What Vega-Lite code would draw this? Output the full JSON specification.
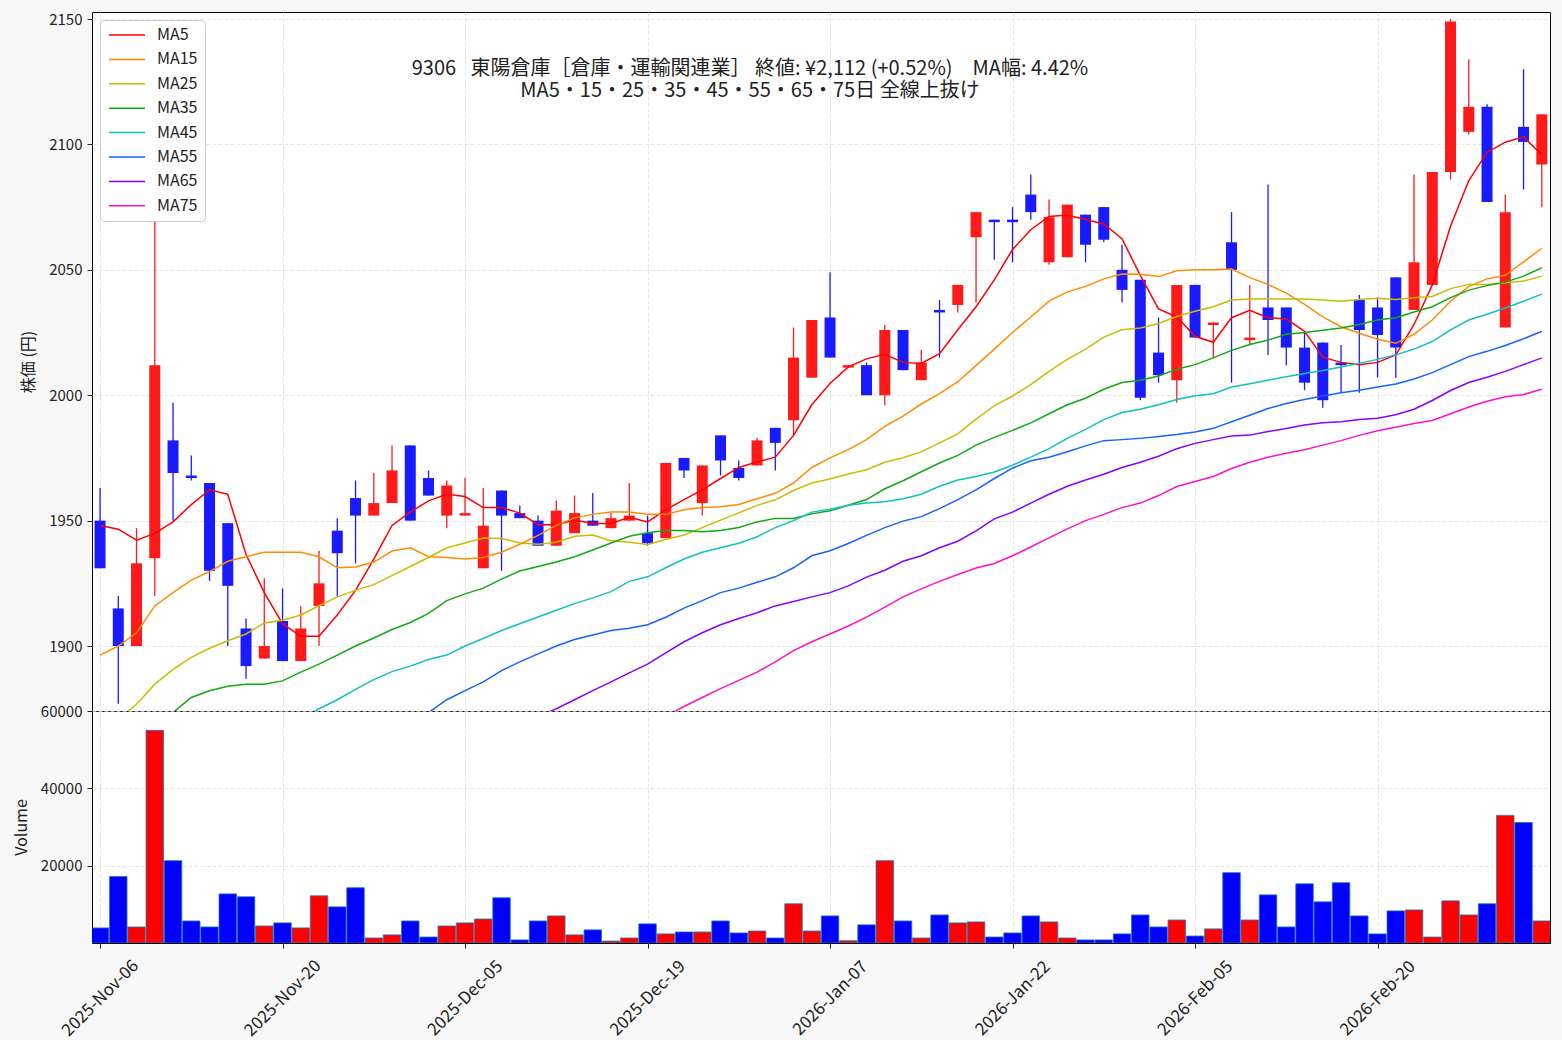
{
  "$schema": "https://vega.github.io/schema/vega-lite/v6.json",
  "background": "#f8f8f8",
  "padding": {"left": 12, "top": 11, "right": 11, "bottom": 0},
  "bounds": "flush",
  "config": {
    "font": "Noto Sans CJK JP",
    "view": {"stroke": "#000000", "strokeWidth": 1, "fill": "#ffffff"},
    "axis": {
      "labelFontSize": 15, "labelColor": "#222222", "labelFont": "Noto Sans CJK JP",
      "titleFontSize": 16, "titleFontWeight": "normal", "titleColor": "#222222", "titleFont": "Noto Sans CJK JP",
      "tickColor": "#222222", "tickSize": 5, "domain": false,
      "gridColor": "#dddddd", "gridDash": [4, 2], "gridWidth": 0.8
    }
  },
  "datasets": {
    "k": [
      {"i":0,"d":"2025-11-06","o":1950,"h":1963,"l":1931,"c":1931,"v":3900,"MA5":1948.1,"MA15":1896.4,"MA25":1866},
      {"i":1,"d":"2025-11-07","o":1915,"h":1920,"l":1877,"c":1900,"v":17200,"MA5":1946.6,"MA15":1900,"MA25":1871},
      {"i":2,"d":"2025-11-10","o":1900,"h":1947,"l":1900,"c":1933,"v":4150,"MA5":1942.2,"MA15":1905.3,"MA25":1876.8},
      {"i":3,"d":"2025-11-11","o":1935,"h":2080,"l":1920,"c":2012,"v":55000,"MA5":1944.9,"MA15":1916,"MA25":1884.8,"MA35":1867},
      {"i":4,"d":"2025-11-12","o":1982,"h":1997,"l":1950,"c":1969,"v":21300,"MA5":1949.5,"MA15":1921.3,"MA25":1890.7,"MA35":1873.5},
      {"i":5,"d":"2025-11-13","o":1968,"h":1976,"l":1966,"c":1967,"v":5700,"MA5":1956.4,"MA15":1926.3,"MA25":1895.5,"MA35":1879.5},
      {"i":6,"d":"2025-11-14","o":1965,"h":1965,"l":1926,"c":1930,"v":4150,"MA5":1962.3,"MA15":1929.7,"MA25":1899.1,"MA35":1882.2},
      {"i":7,"d":"2025-11-17","o":1949,"h":1949,"l":1900,"c":1924,"v":12700,"MA5":1960.5,"MA15":1933.8,"MA25":1902.1,"MA35":1884},
      {"i":8,"d":"2025-11-18","o":1907,"h":1911,"l":1887,"c":1892,"v":11950,"MA5":1936.5,"MA15":1935.6,"MA25":1904.8,"MA35":1884.8},
      {"i":9,"d":"2025-11-19","o":1895,"h":1927,"l":1895,"c":1900,"v":4400,"MA5":1921.3,"MA15":1937.4,"MA25":1909.2,"MA35":1884.8},
      {"i":10,"d":"2025-11-20","o":1910,"h":1923,"l":1894,"c":1894,"v":5200,"MA5":1908.9,"MA15":1937.4,"MA25":1910.3,"MA35":1886.1},
      {"i":11,"d":"2025-11-21","o":1894,"h":1916,"l":1894,"c":1907,"v":3900,"MA5":1903.9,"MA15":1937.4,"MA25":1912.4,"MA35":1889.6,"MA45":1871},
      {"i":12,"d":"2025-11-25","o":1916,"h":1938,"l":1900,"c":1925,"v":12200,"MA5":1903.9,"MA15":1935.6,"MA25":1916,"MA35":1892.8,"MA45":1875},
      {"i":13,"d":"2025-11-26","o":1946,"h":1951,"l":1920,"c":1937,"v":9350,"MA5":1912.4,"MA15":1931.2,"MA25":1919.6,"MA35":1896.4,"MA45":1878.6},
      {"i":14,"d":"2025-11-27","o":1959,"h":1966,"l":1933,"c":1952,"v":14300,"MA5":1922.2,"MA15":1931.5,"MA25":1922.2,"MA35":1900,"MA45":1882.7},
      {"i":15,"d":"2025-11-28","o":1952,"h":1969,"l":1952,"c":1957,"v":1300,"MA5":1934.7,"MA15":1933.5,"MA25":1924.5,"MA35":1903.2,"MA45":1886.6},
      {"i":16,"d":"2025-12-01","o":1957,"h":1980,"l":1957,"c":1970,"v":2100,"MA5":1948.1,"MA15":1937.9,"MA25":1928.1,"MA35":1906.6,"MA45":1889.8},
      {"i":17,"d":"2025-12-02","o":1980,"h":1980,"l":1950,"c":1950,"v":5700,"MA5":1953.4,"MA15":1939.2,"MA25":1931.7,"MA35":1909.4,"MA45":1892,"MA55":1869},
      {"i":18,"d":"2025-12-03","o":1967,"h":1970,"l":1960,"c":1960,"v":1550,"MA5":1957.9,"MA15":1935.6,"MA25":1935.3,"MA35":1913,"MA45":1894.6,"MA55":1873.5},
      {"i":19,"d":"2025-12-04","o":1952,"h":1966,"l":1947,"c":1964,"v":4400,"MA5":1960.5,"MA15":1935.3,"MA25":1939.2,"MA35":1918.1,"MA45":1896.4,"MA55":1878.6},
      {"i":20,"d":"2025-12-05","o":1952,"h":1967,"l":1952,"c":1953,"v":5200,"MA5":1959.6,"MA15":1934.7,"MA25":1941.1,"MA35":1920.8,"MA45":1900,"MA55":1882.2},
      {"i":21,"d":"2025-12-08","o":1931,"h":1963,"l":1931,"c":1948,"v":6200,"MA5":1955.2,"MA15":1935.3,"MA25":1943.1,"MA35":1923.1,"MA45":1903,"MA55":1885.7},
      {"i":22,"d":"2025-12-09","o":1962,"h":1962,"l":1930,"c":1952,"v":11700,"MA5":1955.2,"MA15":1937.4,"MA25":1942.9,"MA35":1926.7,"MA45":1906.2,"MA55":1890.2},
      {"i":23,"d":"2025-12-10","o":1953,"h":1956,"l":1951,"c":1951,"v":800,"MA5":1953,"MA15":1940.6,"MA25":1941.1,"MA35":1929.9,"MA45":1908.9,"MA55":1893.7},
      {"i":24,"d":"2025-12-11","o":1950,"h":1952,"l":1940,"c":1940,"v":5700,"MA5":1948.4,"MA15":1944.1,"MA25":1940.6,"MA35":1931.7,"MA45":1911.6,"MA55":1896.9,"MA65":1872},
      {"i":25,"d":"2025-12-12","o":1940,"h":1958,"l":1940,"c":1954,"v":7000,"MA5":1948.4,"MA15":1948.1,"MA25":1941.4,"MA35":1933.5,"MA45":1914.3,"MA55":1900,"MA65":1875},
      {"i":26,"d":"2025-12-15","o":1945,"h":1960,"l":1945,"c":1953,"v":2100,"MA5":1950.2,"MA15":1951.1,"MA25":1943.8,"MA35":1935.6,"MA45":1916.9,"MA55":1902.6,"MA65":1878.6},
      {"i":27,"d":"2025-12-16","o":1950,"h":1961,"l":1948,"c":1948,"v":3400,"MA5":1948.9,"MA15":1952.5,"MA25":1944.3,"MA35":1938.3,"MA45":1919.2,"MA55":1904.4,"MA65":1882.2},
      {"i":28,"d":"2025-12-17","o":1947,"h":1953,"l":1947,"c":1951,"v":500,"MA5":1948.9,"MA15":1953.4,"MA25":1942,"MA35":1941.1,"MA45":1921.7,"MA55":1906.2,"MA65":1885.7},
      {"i":29,"d":"2025-12-18","o":1950,"h":1965,"l":1950,"c":1952,"v":1300,"MA5":1951.3,"MA15":1953.4,"MA25":1941.4,"MA35":1943.8,"MA45":1925.8,"MA55":1907.1,"MA65":1889.3},
      {"i":30,"d":"2025-12-19","o":1945,"h":1952,"l":1940,"c":1941,"v":4950,"MA5":1949.5,"MA15":1952.5,"MA25":1940.5,"MA35":1945.2,"MA45":1927.6,"MA55":1908.5,"MA65":1892.8},
      {"i":31,"d":"2025-12-22","o":1943,"h":1973,"l":1943,"c":1973,"v":2350,"MA5":1954.3,"MA15":1952.5,"MA25":1942.5,"MA35":1946.1,"MA45":1931.2,"MA55":1911.5,"MA65":1897.3,"MA75":1872},
      {"i":32,"d":"2025-12-23","o":1975,"h":1975,"l":1967,"c":1970,"v":2850,"MA5":1958.4,"MA15":1954.3,"MA25":1944.3,"MA35":1946.1,"MA45":1934.7,"MA55":1915.1,"MA65":1901.7,"MA75":1875.9},
      {"i":33,"d":"2025-12-24","o":1957,"h":1972,"l":1952,"c":1972,"v":2850,"MA5":1962.3,"MA15":1955.2,"MA25":1947.2,"MA35":1945.6,"MA45":1937.4,"MA55":1918.1,"MA65":1905.3,"MA75":1879.5},
      {"i":34,"d":"2025-12-25","o":1984,"h":1984,"l":1968,"c":1974,"v":5700,"MA5":1966.8,"MA15":1955.5,"MA25":1950.2,"MA35":1946.1,"MA45":1939.2,"MA55":1921.3,"MA65":1908.5,"MA75":1883},
      {"i":35,"d":"2025-12-26","o":1971,"h":1974,"l":1966,"c":1967,"v":2600,"MA5":1971.2,"MA15":1956.4,"MA25":1953.1,"MA35":1947.3,"MA45":1941,"MA55":1923.1,"MA65":1911,"MA75":1886.3},
      {"i":36,"d":"2025-12-29","o":1972,"h":1983,"l":1972,"c":1982,"v":3100,"MA5":1973.4,"MA15":1958.7,"MA25":1956.1,"MA35":1949.5,"MA45":1943.6,"MA55":1925.4,"MA65":1913.3,"MA75":1889.6},
      {"i":37,"d":"2025-12-30","o":1987,"h":1987,"l":1970,"c":1981,"v":1300,"MA5":1975.3,"MA15":1960.9,"MA25":1958.3,"MA35":1950.9,"MA45":1947.2,"MA55":1927.6,"MA65":1916,"MA75":1893.7},
      {"i":38,"d":"2026-01-05","o":1990,"h":2027,"l":1984,"c":2015,"v":10150,"MA5":1984,"MA15":1965,"MA25":1962,"MA35":1950.9,"MA45":1950,"MA55":1931.2,"MA65":1917.8,"MA75":1898.2},
      {"i":39,"d":"2026-01-06","o":2007,"h":2030,"l":2007,"c":2030,"v":3100,"MA5":1996.2,"MA15":1971.2,"MA25":1965,"MA35":1952.7,"MA45":1953.4,"MA55":1936,"MA65":1919.6,"MA75":1901.7},
      {"i":40,"d":"2026-01-07","o":2031,"h":2049,"l":2015,"c":2015,"v":7000,"MA5":2004.7,"MA15":1975,"MA25":1966.6,"MA35":1953.9,"MA45":1954.5,"MA55":1938,"MA65":1921.3,"MA75":1904.8},
      {"i":41,"d":"2026-01-08","o":2011,"h":2012,"l":2011,"c":2012,"v":600,"MA5":2011.3,"MA15":1978.3,"MA25":1968.6,"MA35":1956.1,"MA45":1956.1,"MA55":1940.9,"MA65":1924,"MA75":1908},
      {"i":42,"d":"2026-01-09","o":2012,"h":2013,"l":2000,"c":2000,"v":4700,"MA5":2014.5,"MA15":1982.3,"MA25":1970.3,"MA35":1958.4,"MA45":1957,"MA55":1944.1,"MA65":1927.5,"MA75":1911.5},
      {"i":43,"d":"2026-01-13","o":2000,"h":2028,"l":1996,"c":2026,"v":21300,"MA5":2016.3,"MA15":1987.6,"MA25":1973.3,"MA35":1962.7,"MA45":1957.5,"MA55":1947.2,"MA65":1930.2,"MA75":1915.5},
      {"i":44,"d":"2026-01-14","o":2026,"h":2026,"l":2010,"c":2010,"v":5700,"MA5":2013.1,"MA15":1991.7,"MA25":1975.1,"MA35":1965.9,"MA45":1958.7,"MA55":1949.8,"MA65":1933.8,"MA75":1919.6},
      {"i":45,"d":"2026-01-15","o":2006,"h":2018,"l":2006,"c":2013,"v":1300,"MA5":2012.7,"MA15":1996.5,"MA25":1977.4,"MA35":1969.5,"MA45":1960.5,"MA55":1951.6,"MA65":1936,"MA75":1922.8},
      {"i":46,"d":"2026-01-16","o":2034,"h":2038,"l":2015,"c":2033,"v":7250,"MA5":2016.6,"MA15":2000.6,"MA25":1981,"MA35":1973,"MA45":1963.7,"MA55":1954.8,"MA65":1939.2,"MA75":1925.8},
      {"i":47,"d":"2026-01-19","o":2036,"h":2044,"l":2033,"c":2044,"v":5200,"MA5":2026.1,"MA15":2005.4,"MA25":1984.6,"MA35":1976,"MA45":1966.2,"MA55":1958.4,"MA65":1941.8,"MA75":1928.5},
      {"i":48,"d":"2026-01-20","o":2063,"h":2073,"l":2037,"c":2073,"v":5450,"MA5":2035.3,"MA15":2011.8,"MA25":1990.5,"MA35":1980.1,"MA45":1967.6,"MA55":1962.3,"MA65":1945.9,"MA75":1931.1},
      {"i":49,"d":"2026-01-21","o":2070,"h":2070,"l":2054,"c":2069,"v":1550,"MA5":2046,"MA15":2018.4,"MA25":1995.8,"MA35":1983.2,"MA45":1969.4,"MA55":1966.8,"MA65":1950.7,"MA75":1932.9},
      {"i":50,"d":"2026-01-22","o":2070,"h":2075,"l":2053,"c":2069,"v":2600,"MA5":2058.1,"MA15":2025,"MA25":1999.7,"MA35":1986,"MA45":1972.1,"MA55":1970.9,"MA65":1953.4,"MA75":1936},
      {"i":51,"d":"2026-01-23","o":2080,"h":2088,"l":2070,"c":2073,"v":7000,"MA5":2066,"MA15":2031.2,"MA25":2004.2,"MA35":1989,"MA45":1975.3,"MA55":1973.9,"MA65":1957,"MA75":1939.5},
      {"i":52,"d":"2026-01-26","o":2053,"h":2078,"l":2052,"c":2071,"v":5450,"MA5":2071.3,"MA15":2037.5,"MA25":2009.5,"MA35":1992.6,"MA45":1978.7,"MA55":1975.3,"MA65":1960.5,"MA75":1943.1},
      {"i":53,"d":"2026-01-27","o":2055,"h":2076,"l":2055,"c":2076,"v":1300,"MA5":2071.9,"MA15":2041.2,"MA25":2014.3,"MA35":1996.2,"MA45":1982.8,"MA55":1977.5,"MA65":1963.7,"MA75":1946.7},
      {"i":54,"d":"2026-01-28","o":2072,"h":2072,"l":2053,"c":2060,"v":800,"MA5":2070.1,"MA15":2043.4,"MA25":2018.4,"MA35":1998.8,"MA45":1986.4,"MA55":1979.8,"MA65":1966.2,"MA75":1950},
      {"i":55,"d":"2026-01-29","o":2075,"h":2075,"l":2061,"c":2062,"v":800,"MA5":2068.3,"MA15":2046.4,"MA25":2023.2,"MA35":2002.4,"MA45":1990.3,"MA55":1981.9,"MA65":1968.5,"MA75":1952.5},
      {"i":56,"d":"2026-01-30","o":2050,"h":2060,"l":2037,"c":2042,"v":2350,"MA5":2062.4,"MA15":2048.3,"MA25":2026.1,"MA35":2005.1,"MA45":1993.1,"MA55":1982.3,"MA65":1971.2,"MA75":1955.2},
      {"i":57,"d":"2026-02-02","o":2046,"h":2046,"l":1998,"c":1999,"v":7250,"MA5":2047.8,"MA15":2048.2,"MA25":2026.8,"MA35":2006,"MA45":1994.4,"MA55":1982.8,"MA65":1973.3,"MA75":1957},
      {"i":58,"d":"2026-02-03","o":2017,"h":2031,"l":2005,"c":2008,"v":4150,"MA5":2034.4,"MA15":2047.3,"MA25":2028.6,"MA35":2007.7,"MA45":1996.2,"MA55":1983.5,"MA65":1975.7,"MA75":1960},
      {"i":59,"d":"2026-02-04","o":2006,"h":2044,"l":1997,"c":2044,"v":5950,"MA5":2031.2,"MA15":2049.6,"MA25":2031.4,"MA35":2010.4,"MA45":1998.3,"MA55":1984.3,"MA65":1978.7,"MA75":1963.6},
      {"i":60,"d":"2026-02-05","o":2044,"h":2044,"l":2023,"c":2023,"v":1800,"MA5":2023.5,"MA15":2050,"MA25":2033.5,"MA35":2012.2,"MA45":1999.8,"MA55":1985.3,"MA65":1980.8,"MA75":1965.6},
      {"i":61,"d":"2026-02-06","o":2028,"h":2029,"l":2015,"c":2029,"v":3650,"MA5":2021.1,"MA15":2050,"MA25":2035.3,"MA35":2014.9,"MA45":2000.6,"MA55":1986.8,"MA65":1982.3,"MA75":1967.6},
      {"i":62,"d":"2026-02-09","o":2061,"h":2073,"l":2005,"c":2050,"v":18200,"MA5":2030.9,"MA15":2050.3,"MA25":2038,"MA35":2017.9,"MA45":2003.3,"MA55":1989.4,"MA65":1983.7,"MA75":1970.8},
      {"i":63,"d":"2026-02-10","o":2022,"h":2044,"l":2020,"c":2023,"v":5950,"MA5":2033.9,"MA15":2046.9,"MA25":2038.4,"MA35":2020.2,"MA45":2004.6,"MA55":1992,"MA65":1984.1,"MA75":1973.3},
      {"i":64,"d":"2026-02-12","o":2035,"h":2084,"l":2016,"c":2030,"v":12450,"MA5":2030.9,"MA15":2044.2,"MA25":2038.5,"MA35":2022,"MA45":2006,"MA55":1994.7,"MA65":1985.5,"MA75":1975.3},
      {"i":65,"d":"2026-02-13","o":2035,"h":2035,"l":2012,"c":2019,"v":4150,"MA5":2030.4,"MA15":2040.7,"MA25":2038.4,"MA35":2024.3,"MA45":2007.4,"MA55":1996.7,"MA65":1986.7,"MA75":1976.9},
      {"i":66,"d":"2026-02-16","o":2019,"h":2025,"l":2002,"c":2005,"v":15300,"MA5":2025.5,"MA15":2036.2,"MA25":2038.4,"MA35":2025,"MA45":2008.7,"MA55":1998.3,"MA65":1988.1,"MA75":1978.3},
      {"i":67,"d":"2026-02-17","o":2021,"h":2021,"l":1995,"c":1998,"v":10650,"MA5":2015.2,"MA15":2031.2,"MA25":2038,"MA35":2025.9,"MA45":2009.9,"MA55":1999.7,"MA65":1989,"MA75":1980.1},
      {"i":68,"d":"2026-02-18","o":2013,"h":2020,"l":2001,"c":2012,"v":15600,"MA5":2013.1,"MA15":2027.3,"MA25":2037.5,"MA35":2026.8,"MA45":2011.3,"MA55":2001,"MA65":1989.4,"MA75":1981.9},
      {"i":69,"d":"2026-02-19","o":2038,"h":2040,"l":2001,"c":2026,"v":7000,"MA5":2012.2,"MA15":2024.7,"MA25":2038.2,"MA35":2028.2,"MA45":2012.7,"MA55":2002,"MA65":1990.3,"MA75":1984},
      {"i":70,"d":"2026-02-20","o":2035,"h":2039,"l":2007,"c":2024,"v":2350,"MA5":2013.1,"MA15":2022.3,"MA25":2038.7,"MA35":2030,"MA45":2014.3,"MA55":2003.3,"MA65":1990.8,"MA75":1985.8},
      {"i":71,"d":"2026-02-24","o":2047,"h":2047,"l":2007,"c":2019,"v":8300,"MA5":2016.1,"MA15":2020.7,"MA25":2038.2,"MA35":2030.9,"MA45":2016.1,"MA55":2004.5,"MA65":1992.2,"MA75":1987.2},
      {"i":72,"d":"2026-02-25","o":2034,"h":2088,"l":2034,"c":2053,"v":8550,"MA5":2028.2,"MA15":2024.3,"MA25":2038.9,"MA35":2033.2,"MA45":2018.4,"MA55":2006.5,"MA65":1994.4,"MA75":1988.7},
      {"i":73,"d":"2026-02-26","o":2044,"h":2089,"l":2044,"c":2089,"v":1550,"MA5":2044,"MA15":2030,"MA25":2039.4,"MA35":2035.3,"MA45":2021.4,"MA55":2009,"MA65":1997.9,"MA75":1989.9},
      {"i":74,"d":"2026-02-27","o":2089,"h":2150,"l":2086,"c":2149,"v":10900,"MA5":2067.4,"MA15":2037.5,"MA25":2042.5,"MA35":2038.9,"MA45":2026.1,"MA55":2012.2,"MA65":2001.9,"MA75":1992.6},
      {"i":75,"d":"2026-03-02","o":2105,"h":2134,"l":2104,"c":2115,"v":7250,"MA5":2085.6,"MA15":2043.4,"MA25":2044.2,"MA35":2041.9,"MA45":2030,"MA55":2015.4,"MA65":2005.1,"MA75":1995.3},
      {"i":76,"d":"2026-03-03","o":2115,"h":2116,"l":2077,"c":2077,"v":10150,"MA5":2096.8,"MA15":2046.4,"MA25":2044.2,"MA35":2043.7,"MA45":2032.3,"MA55":2017.5,"MA65":2007.2,"MA75":1997.6},
      {"i":77,"d":"2026-03-04","o":2027,"h":2080,"l":2027,"c":2073,"v":33000,"MA5":2100.9,"MA15":2047.8,"MA25":2044.8,"MA35":2045.1,"MA45":2034.8,"MA55":2019.8,"MA65":2009.5,"MA75":1999.4},
      {"i":78,"d":"2026-03-05","o":2107,"h":2130,"l":2082,"c":2101,"v":31150,"MA5":2103,"MA15":2053.2,"MA25":2045.5,"MA35":2047.5,"MA45":2037.5,"MA55":2022.5,"MA65":2012.2,"MA75":2000.3},
      {"i":79,"d":"2026-03-06","o":2092,"h":2112,"l":2075,"c":2112,"v":5700,"MA5":2095.9,"MA15":2058.6,"MA25":2047.5,"MA35":2050.8,"MA45":2040.3,"MA55":2025.5,"MA65":2014.9,"MA75":2002.4}
    ]
  },
  "spacing": 0,
  "vconcat": [
    {
      "width": 1458,
      "height": 699,
      "title": {
        "text": ["9306\u2002 東陽倉庫［倉庫・運輸関連業］ 終値: ¥2,112 (+0.52%)\u3000MA幅: 4.42%", "MA5・15・25・35・45・55・65・75日 全線上抜け"],
        "font": "Noto Sans CJK JP", "fontSize": 20, "fontWeight": "normal", "color": "#222222",
        "anchor": "middle", "frame": "group", "offset": 0, "dx": -71, "dy": 89, "lineHeight": 22
      },
      "data": {"name": "k"},
      "layer": [
        {
          "mark": {"type": "rule", "strokeWidth": 1.3, "clip": true},
          "encoding": {
            "x": {"field": "i", "type": "quantitative",
                  "scale": {"domain": [-0.44, 79.45], "nice": false, "zero": false, "padding": 0},
                  "axis": {"values": [0, 10, 20, 30, 40, 50, 60, 70], "labels": false, "ticks": false, "grid": true, "title": null,
                           "minExtent": 0, "maxExtent": 0, "labelPadding": 0, "tickSize": 0}},
            "y": {"field": "l", "type": "quantitative",
                  "scale": {"domain": [1874.1, 2152.8], "nice": false, "zero": false},
                  "axis": {"values": [1900, 1950, 2000, 2050, 2100, 2150], "format": "d", "title": "株価 (円)", "grid": true,
                           "minExtent": 45, "maxExtent": 45, "titlePadding": 11, "labelPadding": 5}},
            "y2": {"field": "h"},
            "color": {"condition": {"test": "datum.c >= datum.o", "value": "#ff1a1a"}, "value": "#1a1aff"}
          }
        },
        {
          "mark": {"type": "bar", "width": 11, "clip": true},
          "encoding": {
            "x": {"field": "i", "type": "quantitative"},
            "y": {"field": "o", "type": "quantitative"},
            "y2": {"field": "c"},
            "color": {"condition": {"test": "datum.c >= datum.o", "value": "#ff1a1a"}, "value": "#1a1aff"}
          }
        },
        {
          "transform": [
            {"fold": ["MA5", "MA15", "MA25", "MA35", "MA45", "MA55", "MA65", "MA75"], "as": ["ma", "mv"]},
            {"filter": "isValid(datum.mv)"}
          ],
          "mark": {"type": "line", "strokeWidth": 1.5, "clip": true},
          "encoding": {
            "x": {"field": "i", "type": "quantitative"},
            "y": {"field": "mv", "type": "quantitative"},
            "color": {
              "field": "ma", "type": "nominal",
              "scale": {
                "domain": ["MA5", "MA15", "MA25", "MA35", "MA45", "MA55", "MA65", "MA75"],
                "range": ["#ff0000", "#ff8c00", "#ccbb00", "#11aa11", "#11c0c0", "#1463ff", "#8800ff", "#ff11cc"]
              },
              "legend": {
                "title": null, "orient": "none", "legendX": 8, "legendY": 8,
                "fillColor": "#ffffff", "strokeColor": "#cccccc", "cornerRadius": 4, "padding": 7,
                "symbolType": "M-1,0H5", "symbolSize": 144, "symbolStrokeWidth": 1.5,
                "labelFontSize": 16, "labelFont": "Noto Sans CJK JP", "labelColor": "#222222",
                "labelOffset": 34, "rowPadding": 8.4
              }
            }
          }
        }
      ]
    },
    {
      "width": 1458,
      "height": 232,
      "data": {"name": "k"},
      "mark": {"type": "bar", "width": 17.5, "stroke": "#1f77b4", "strokeWidth": 0.8, "clip": true},
      "encoding": {
        "x": {"field": "i", "type": "quantitative",
              "scale": {"domain": [-0.44, 79.45], "nice": false, "zero": false, "padding": 0},
              "axis": {"values": [0, 10, 20, 30, 40, 50, 60, 70], "grid": true, "title": null, "labelFontSize": 17,
                       "labelExpr": "['2025-Nov-06','2025-Nov-20','2025-Dec-05','2025-Dec-19','2026-Jan-07','2026-Jan-22','2026-Feb-05','2026-Feb-20'][round(datum.value/10)]",
                       "labelAngle": -45, "labelAlign": "center", "labelBaseline": "middle", "labelPadding": 50, "tickSize": 5}},
        "y": {"field": "v", "type": "quantitative",
              "scale": {"domain": [0, 60000], "nice": false},
              "axis": {"values": [20000, 40000, 60000], "format": "d", "title": "Volume", "grid": true,
                       "minExtent": 45, "maxExtent": 45, "titlePadding": 18, "labelPadding": 5}},
        "color": {"condition": {"test": "datum.c >= datum.o", "value": "#ff0000"}, "value": "#0000ff"}
      }
    }
  ]
}
